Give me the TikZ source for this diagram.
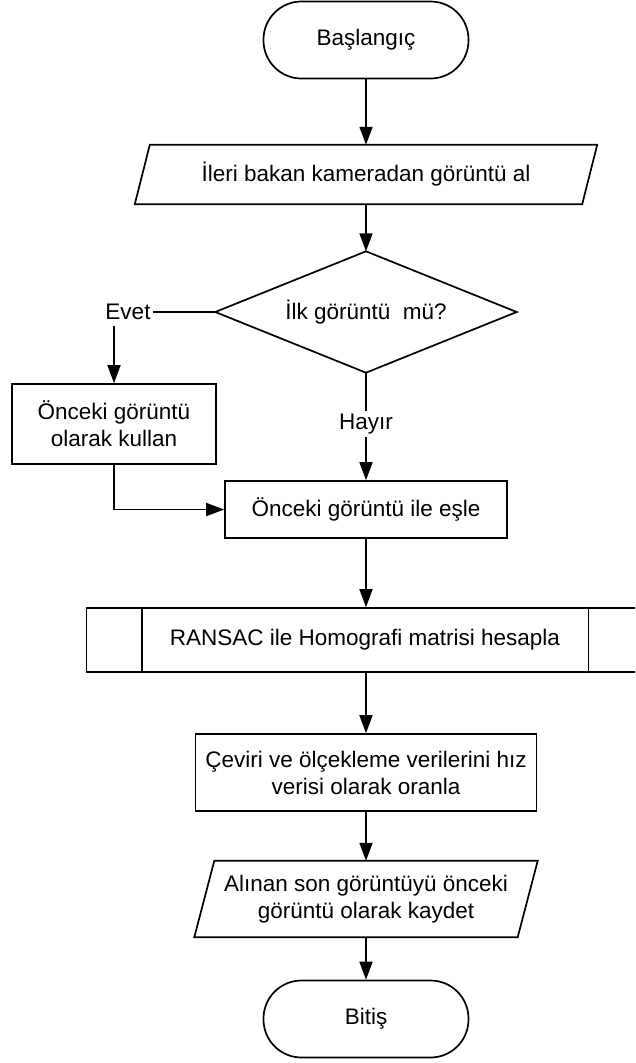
\documentclass[tikz,border=0pt]{standalone}
\usepackage{fontspec}
\setmainfont{Liberation Sans}
\usetikzlibrary{arrows.meta,calc}
\begin{document}
\begin{tikzpicture}[x=1pt,y=-1pt,
  every node/.style={font=\fontsize{22.5}{27}\selectfont},
  term/.style={draw, line width=1.7pt, rounded corners=38pt, minimum width=205pt, minimum height=77pt, inner sep=0pt},
  proc/.style={draw, line width=1.7pt, inner sep=0pt, align=center},
  plain/.style={inner sep=0pt, align=center},
  conn/.style={line width=1.7pt},
  arr/.style={conn, -{Triangle[length=18pt,width=13pt]}}
]
\useasboundingbox (0,0) rectangle (635,1063);
\clip (0,0) rectangle (635,1063);
\fill[white] (0,0) rectangle (635,1063);

% nodes
\node[term] (start) at (366,40) {Başlangıç};

\node[plain, minimum width=432pt, minimum height=59pt] (p1) at (366,174.5) {İleri bakan kameradan görüntü al};
\draw[conn] (p1.north west) -- ($(p1.north east)+(15,0)$) -- (p1.south east) -- ($(p1.south west)+(-15,0)$) -- cycle;

\node[plain, minimum width=301pt, minimum height=121pt] (dec) at (366,312) {İlk görüntü\ \ mü?};
\draw[conn] (dec.north) -- (dec.east) -- (dec.south) -- (dec.west) -- cycle;

\node[inner sep=2pt] (evet) at (128,312) {Evet};
\node[proc, minimum width=204pt, minimum height=80pt] (lb) at (114,424) {Önceki görüntü\\olarak kullan};

\node[inner sep=3pt] (hay) at (366,424) {Hayır};
\node[proc, minimum width=282pt, minimum height=57pt] (match) at (366,509.5) {Önceki görüntü ile eşle};

\node[proc, minimum width=557pt, minimum height=64pt] (ran) at (365,640) {RANSAC ile Homografi matrisi hesapla};
\draw[conn] ($(ran.north west)+(56,0)$) -- ($(ran.south west)+(56,0)$);
\draw[conn] ($(ran.north east)+(-56,0)$) -- ($(ran.south east)+(-56,0)$);

\node[proc, minimum width=341pt, minimum height=77pt] (cev) at (366,772.5) {Çeviri ve ölçekleme verilerini hız\\verisi olarak oranla};

\node[plain, minimum width=303pt, minimum height=76pt] (p2) at (366,899) {Alınan son görüntüyü önceki\\görüntü olarak kaydet};
\draw[conn] (p2.north west) -- ($(p2.north east)+(20,0)$) -- (p2.south east) -- ($(p2.south west)+(-20,0)$) -- cycle;

\node[term] (end) at (366,1019) {Bitiş};

% connectors
\draw[arr] (start.south) -- (p1.north);
\draw[arr] (p1.south) -- (dec.north);
\draw[conn] (evet.east) -- (dec.west);
\draw[arr] ($(lb.north |- evet.south)+(0,4)$) -- (lb.north);
\draw[conn] (dec.south) -- (hay.north);
\draw[arr] (hay.south) -- (match.north);
\draw[arr] (lb.south) |- (match.west);
\draw[arr] (match.south) -- (match.south |- ran.north);
\draw[arr] (ran.south -| cev.north) -- (cev.north);
\draw[arr] (cev.south) -- (p2.north);
\draw[arr] (p2.south) -- (end.north);
\end{tikzpicture}
\end{document}
